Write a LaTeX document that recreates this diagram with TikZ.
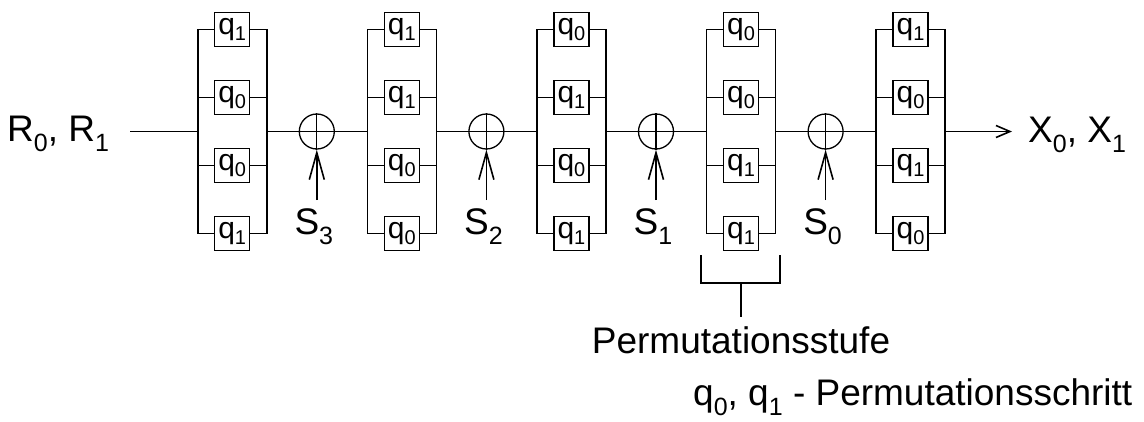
\documentclass[tikz,border=0pt]{standalone}
\usepackage{fontspec}
\setmainfont{Liberation Sans}
\usetikzlibrary{arrows.meta}
\newcommand\bigsub[1]{\raisebox{-10pt}{\fontsize{25}{25}\selectfont #1}}
\newcommand\qsub[1]{\raisebox{-6pt}{\fontsize{20}{20}\selectfont #1}}
\tikzset{
  qbox/.style={draw, line width=1.5pt, minimum width=35pt, minimum height=34pt, inner sep=0pt, font=\fontsize{30}{30}\selectfont},
  xorc/.style={draw, circle, line width=1.3pt, minimum size=35pt, inner sep=0pt},
  wire/.style={line width=1.6pt},
  lbl/.style={inner sep=0pt, font=\fontsize{37}{40}\selectfont},
  sarrow/.style={wire, -{Straight Barb[length=27pt,width=15pt]}},
  oarrow/.style={wire, -{Straight Barb[length=14pt,width=12pt]}},
}
\begin{document}
\begin{tikzpicture}[x=1pt,y=-1pt]
\useasboundingbox (0,0) rectangle (1144,421);
\def\ym{131.5}
% stages
\foreach \s/\la/\lb/\lc/\ld in {1/1/0/0/1, 2/1/1/0/0, 3/0/1/0/1, 4/0/0/1/1, 5/1/0/1/0} {
  \pgfmathsetmacro\cx{232.2+169.6*(\s-1)}
  \coordinate (L\s) at (\cx-34.5,\ym);
  \coordinate (R\s) at (\cx+34.5,\ym);
  \node[qbox] (b\s-1) at (\cx,29.5)  {q\qsub{\la}};
  \node[qbox] (b\s-2) at (\cx,97.5)  {q\qsub{\lb}};
  \node[qbox] (b\s-3) at (\cx,165.5) {q\qsub{\lc}};
  \node[qbox] (b\s-4) at (\cx,233.5) {q\qsub{\ld}};
  \draw[wire] (b\s-1.west) -| (L\s) |- (b\s-4.west);
  \draw[wire] (b\s-1.east) -| (R\s) |- (b\s-4.east);
  \draw[wire] (b\s-2.west) -- (b\s-2.west -| L\s);
  \draw[wire] (b\s-3.west) -- (b\s-3.west -| L\s);
  \draw[wire] (b\s-2.east) -- (b\s-2.east -| R\s);
  \draw[wire] (b\s-3.east) -- (b\s-3.east -| R\s);
}
% xor units
\foreach \k/\lab in {1/3, 2/2, 3/1, 4/0} {
  \pgfmathsetmacro\cx{316.8+169.6*(\k-1)}
  \node[xorc] (c\k) at (\cx,\ym) {};
  \draw[line width=1.3pt] (c\k.north) -- (c\k.south);
  \coordinate (a\k) at (\cx,200);
  \draw[sarrow] (a\k) -- (c\k.south);
  \node[lbl, anchor=base] (s\k) at (\cx-3,234) {S\bigsub{\lab}};
}
% main line
\coordinate (inp) at (130,\ym);
\coordinate (outend) at (1012,\ym);
\draw[wire] (inp) -- (L1);
\foreach \k/\n in {1/2, 2/3, 3/4, 4/5} {
  \draw[wire] (R\k) -- (c\k.center) -- (L\n);
}
\draw[oarrow] (R5) -- (outend);
% labels
\node[lbl, anchor=base west] (rin) at (7,141.7) {R\bigsub{0}, R\bigsub{1}};
\node[lbl, anchor=base west] (xout) at (1028,142.5) {X\bigsub{0}, X\bigsub{1}};
% bracket
\coordinate (k1) at (701,255);
\coordinate (k2) at (780,255);
\coordinate (km) at (740.7,283);
\coordinate (stemend) at (740.7,317);
\draw[wire] (k1) |- (km) -| (k2);
\draw[wire] (km) -- (stemend);
\node[lbl, anchor=base] (perm) at (741,353) {Permutationsstufe};
\node[lbl, anchor=base west] (legend) at (693,405) {q\bigsub{0}, q\bigsub{1} - Permutationsschritt};
\end{tikzpicture}
\end{document}
